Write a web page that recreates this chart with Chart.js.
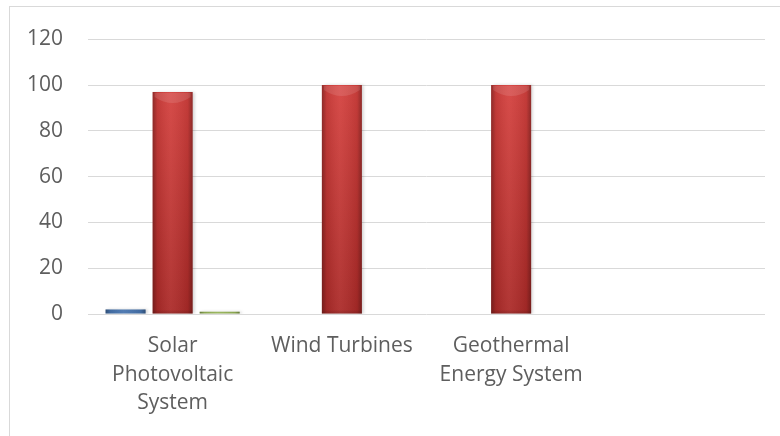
<!DOCTYPE html>
<html>
<head>
<meta charset="utf-8">
<script src="https://cdn.jsdelivr.net/npm/chart.js@4"></script>
<style>
  html, body { margin: 0; padding: 0; background: #ffffff; }
  #wrap { position: relative; width: 780px; height: 436px; overflow: hidden; }
  #frame { position: absolute; left: 9px; top: 6px; width: 820px; height: 480px;
           border-left: 1px solid #d9d9d9; border-top: 1px solid #d9d9d9; }
  canvas { position: absolute; left: 0; top: 0; }
</style>
</head>
<body>
<div id="wrap">
  <div id="frame"></div>
  <canvas id="chart" width="780" height="436"></canvas>
</div>
<script>
// Categories (multi-line labels as arrays); the fourth slot is empty
const categories = [["Solar", "Photovoltaic", "System"], "Wind Turbines", ["Geothermal", "Energy System"], ""];
// Three series, one bar each per category
const seriesBlue  = [2, 0, 0, null];
const seriesRed   = [97, 100, 100, null];
const seriesGreen = [1, 0, 0, null];
// Value axis ticks
const yTicks = [0, 20, 40, 60, 80, 100, 120];

const FONT = { family: "'Open Sans', 'Noto Sans', sans-serif", size: 21, lineHeight: 1.36 };
const TEXT = '#5e5e5e';

function verticalFill(top, bottom) {
  return (ctx) => {
    const area = ctx.chart.chartArea;
    if (!area) return bottom;
    const g = ctx.chart.ctx.createLinearGradient(0, area.top, 0, area.bottom);
    g.addColorStop(0, top);
    g.addColorStop(1, bottom);
    return g;
  };
}

// Rounded, cylinder-like shading drawn over each bar element
const cylinderShade = {
  id: 'cylinderShade',
  beforeDatasetDraw(chart) {
    const ctx = chart.ctx;
    ctx.save();
    ctx.shadowColor = 'rgba(0,0,0,0.18)';
    ctx.shadowOffsetX = 2;
    ctx.shadowOffsetY = 0;
    ctx.shadowBlur = 3;
  },
  afterDatasetDraw(chart, args) {
    const ctx = chart.ctx;
    ctx.restore();
    args.meta.data.forEach((bar) => {
      const p = bar.getProps(['x', 'y', 'base', 'width'], true);
      const h = p.base - p.y;
      if (!(h > 0.5)) return;
      const l = p.x - p.width / 2;
      ctx.save();
      const g = ctx.createLinearGradient(l, 0, l + p.width, 0);
      g.addColorStop(0, 'rgba(0,0,0,0.32)');
      g.addColorStop(0.12, 'rgba(0,0,0,0.08)');
      g.addColorStop(0.45, 'rgba(255,255,255,0.06)');
      g.addColorStop(0.88, 'rgba(0,0,0,0.08)');
      g.addColorStop(1, 'rgba(0,0,0,0.32)');
      ctx.fillStyle = g;
      ctx.fillRect(l, p.y, p.width, h);
      if (h > 14) {
        ctx.beginPath();
        ctx.moveTo(l + 2, p.y + 1);
        ctx.lineTo(l + p.width - 2, p.y + 1);
        ctx.lineTo(l + p.width - 2, p.y + 5);
        ctx.quadraticCurveTo(p.x, p.y + 17, l + 2, p.y + 5);
        ctx.closePath();
        ctx.fillStyle = 'rgba(255,255,255,0.11)';
        ctx.fill();
        const b = ctx.createLinearGradient(0, p.base - 4, 0, p.base);
        b.addColorStop(0, 'rgba(0,0,0,0)');
        b.addColorStop(1, 'rgba(0,0,0,0.15)');
        ctx.fillStyle = b;
        ctx.fillRect(l, p.base - 4, p.width, 4);
      }
      ctx.restore();
    });
  }
};

new Chart(document.getElementById('chart'), {
  type: 'bar',
  data: {
    labels: categories,
    datasets: [
      { data: seriesBlue,  backgroundColor: verticalFill('#5b8dcc', '#4673ad') },
      { data: seriesRed,   backgroundColor: verticalFill('#dd4643', '#ab2a28') },
      { data: seriesGreen, backgroundColor: verticalFill('#abc86e', '#94b255') }
    ]
  },
  options: {
    responsive: false,
    devicePixelRatio: 1,
    animation: false,
    categoryPercentage: 0.834,
    barPercentage: 0.85,
    layout: { padding: { left: 0, right: 15, top: 35, bottom: 0 } },
    plugins: { legend: { display: false }, tooltip: { enabled: false } },
    scales: {
      x: {
        grid: { display: false, drawTicks: false },
        border: { display: false },
        ticks: { color: TEXT, font: FONT, padding: 18, maxRotation: 0, autoSkip: false },
        afterFit: (s) => { s.height = 122; }
      },
      y: {
        min: yTicks[0],
        max: yTicks[yTicks.length - 1],
        afterBuildTicks: (s) => { s.ticks = yTicks.map((v) => ({ value: v })); },
        grid: { color: '#d9d9d9', lineWidth: 1, drawTicks: false },
        border: { display: false },
        ticks: { color: TEXT, font: FONT, padding: 25 },
        afterFit: (s) => { s.width = 88; }
      }
    }
  },
  plugins: [cylinderShade]
});
</script>
</body>
</html>
